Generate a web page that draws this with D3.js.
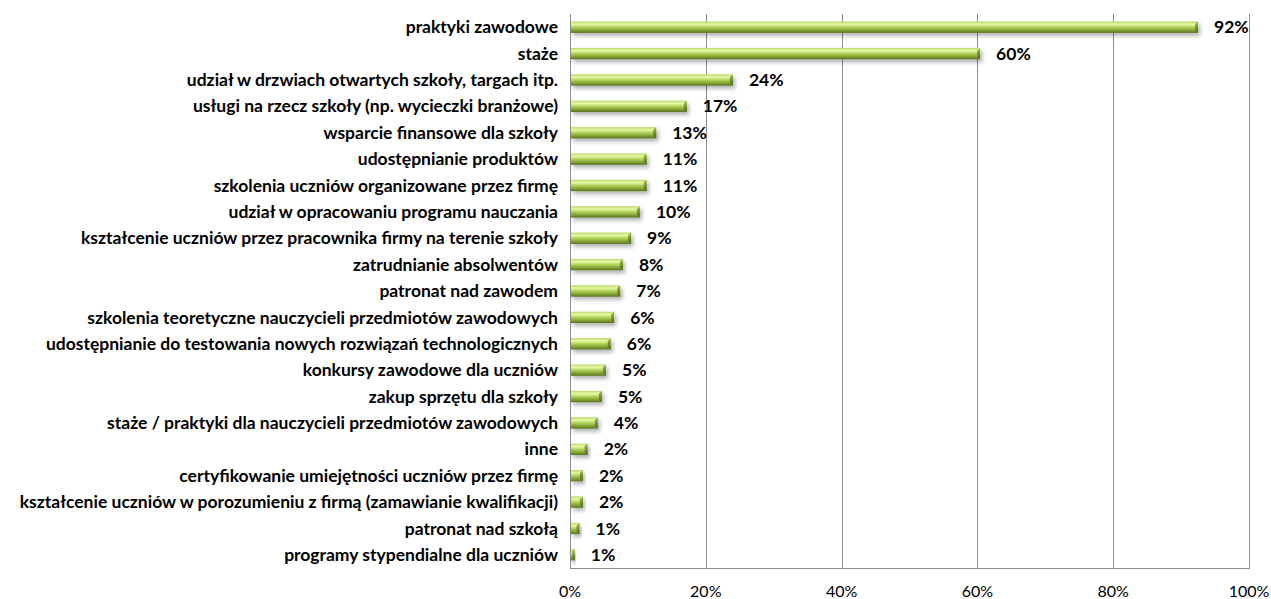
<!DOCTYPE html>
<html>
<head>
<meta charset="utf-8">
<script src="https://cdn.jsdelivr.net/npm/d3@7"></script>
<style>
  body { margin: 0; background: #fff; }
  #chart { width: 1271px; height: 599px; }
</style>
</head>
<body>
<div id="chart"></div>
<script>
// categories (top to bottom) and their shares, in %
const categories = [
  "praktyki zawodowe",
  "staże",
  "udział w drzwiach otwartych szkoły, targach itp.",
  "usługi na rzecz szkoły (np. wycieczki branżowe)",
  "wsparcie finansowe dla szkoły",
  "udostępnianie produktów",
  "szkolenia uczniów organizowane przez firmę",
  "udział w opracowaniu programu nauczania",
  "kształcenie uczniów przez pracownika firmy na terenie szkoły",
  "zatrudnianie absolwentów",
  "patronat nad zawodem",
  "szkolenia teoretyczne nauczycieli przedmiotów zawodowych",
  "udostępnianie do testowania nowych rozwiązań technologicznych",
  "konkursy zawodowe dla uczniów",
  "zakup sprzętu dla szkoły",
  "staże / praktyki dla nauczycieli przedmiotów zawodowych",
  "inne",
  "certyfikowanie umiejętności uczniów przez firmę",
  "kształcenie uczniów w porozumieniu z firmą (zamawianie kwalifikacji)",
  "patronat nad szkołą",
  "programy stypendialne dla uczniów"
];
const values = [92.5, 60.4, 24.0, 17.2, 12.7, 11.3, 11.3, 10.3, 9.0, 7.8, 7.4, 6.5, 6.0, 5.3, 4.7, 4.1, 2.6, 1.9, 1.9, 1.4, 0.7];
const valueLabels = ["92%", "60%", "24%", "17%", "13%", "11%", "11%", "10%", "9%", "8%", "7%", "6%", "6%", "5%", "5%", "4%", "2%", "2%", "2%", "1%", "1%"];
const xTicks = [0, 20, 40, 60, 80, 100];

const data = categories.map((c, i) => ({ name: c, value: values[i], label: valueLabels[i] }));

const margin = {top: 14, right: 22, bottom: 31, left: 570},
    width = 1271 - margin.left - margin.right,
    height = 599 - margin.top - margin.bottom;

const svg = d3.select("#chart").append("svg")
    .attr("width", 1271)
    .attr("height", 599);

const defs = svg.append("defs");
const grad = defs.append("linearGradient")
    .attr("id", "barGrad")
    .attr("x1", 0).attr("y1", 0).attr("x2", 0).attr("y2", 1);
grad.append("stop").attr("offset", "0%").attr("stop-color", "#bcd86a");
grad.append("stop").attr("offset", "25%").attr("stop-color", "#e6f8a4");
grad.append("stop").attr("offset", "55%").attr("stop-color", "#a9cb4f");
grad.append("stop").attr("offset", "80%").attr("stop-color", "#7f9e33");
grad.append("stop").attr("offset", "100%").attr("stop-color", "#56701c");

const capGrad = defs.append("linearGradient")
    .attr("id", "capGrad")
    .attr("x1", 0).attr("y1", 0).attr("x2", 0).attr("y2", 1);
capGrad.append("stop").attr("offset", "0%").attr("stop-color", "#9cbb48");
capGrad.append("stop").attr("offset", "100%").attr("stop-color", "#4e661a");

const shadow = defs.append("filter")
    .attr("id", "shadow")
    .attr("x", "-10%").attr("y", "-50%").attr("width", "130%").attr("height", "250%");
shadow.append("feDropShadow")
    .attr("dx", 2).attr("dy", 3)
    .attr("stdDeviation", 2)
    .attr("flood-color", "#000")
    .attr("flood-opacity", 0.3);

const g = svg.append("g")
    .attr("transform", "translate(" + margin.left + "," + margin.top + ")");

const x = d3.scaleLinear()
    .domain([0, 100])
    .range([0, width]);

const y = d3.scaleBand()
    .domain(categories)
    .range([0, height])
    .paddingInner(0.57)
    .paddingOuter(0.285);

// vertical gridlines
g.selectAll(".grid")
    .data(xTicks)
    .enter().append("line")
    .attr("class", "grid")
    .attr("x1", d => Math.round(x(d)) + 0.5)
    .attr("x2", d => Math.round(x(d)) + 0.5)
    .attr("y1", 0)
    .attr("y2", height)
    .attr("stroke", "#8c8c8c")
    .attr("stroke-width", 1);

// bottom axis line
g.append("line")
    .attr("x1", 0).attr("x2", Math.round(x(100)) + 1)
    .attr("y1", height + 0.5).attr("y2", height + 0.5)
    .attr("stroke", "#8c8c8c");

// x tick labels
g.selectAll(".xtick")
    .data(xTicks)
    .enter().append("text")
    .attr("class", "xtick")
    .attr("x", d => x(d))
    .attr("y", height + 29)
    .attr("text-anchor", "middle")
    .style("font-family", "Lato, 'Open Sans', sans-serif")
    .style("font-size", "16px")
    .attr("fill", "#000")
    .text(d => d + "%");

// bars
const bars = g.selectAll(".bar")
    .data(data)
    .enter().append("g")
    .attr("class", "bar")
    .attr("filter", "url(#shadow)");

bars.append("rect")
    .attr("x", 1)
    .attr("y", d => y(d.name))
    .attr("width", d => Math.max(0, x(d.value) - 1))
    .attr("height", y.bandwidth())
    .attr("fill", "url(#barGrad)");

// darker bevelled end cap
bars.append("path")
    .attr("d", d => {
      const x1 = x(d.value), y0 = y(d.name), h = y.bandwidth();
      const c = Math.min(3, x1 / 2);
      return "M" + (x1 - c) + "," + (y0 + c) + "L" + x1 + "," + y0 + "L" + x1 + "," + (y0 + h) + "L" + (x1 - c) + "," + (y0 + h - c) + "Z";
    })
    .attr("fill", "url(#capGrad)");

// value labels
g.selectAll(".vlabel")
    .data(data)
    .enter().append("text")
    .attr("class", "vlabel")
    .attr("x", d => x(d.value) + 16)
    .attr("y", d => y(d.name) + y.bandwidth() / 2)
    .attr("dy", "0.35em")
    .style("font-family", "Lato, 'Open Sans', sans-serif")
    .style("font-weight", "bold")
    .style("font-size", "17.5px")
    .attr("fill", "#000")
    .text(d => d.label);

// category labels
g.selectAll(".clabel")
    .data(data)
    .enter().append("text")
    .attr("class", "clabel")
    .attr("x", -12)
    .attr("y", d => y(d.name) + y.bandwidth() / 2)
    .attr("dy", "0.35em")
    .attr("text-anchor", "end")
    .style("font-family", "Lato, 'Open Sans', sans-serif")
    .style("font-weight", "bold")
    .style("font-size", "17.5px")
    .attr("fill", "#000")
    .text(d => d.name);
</script>
</body>
</html>
